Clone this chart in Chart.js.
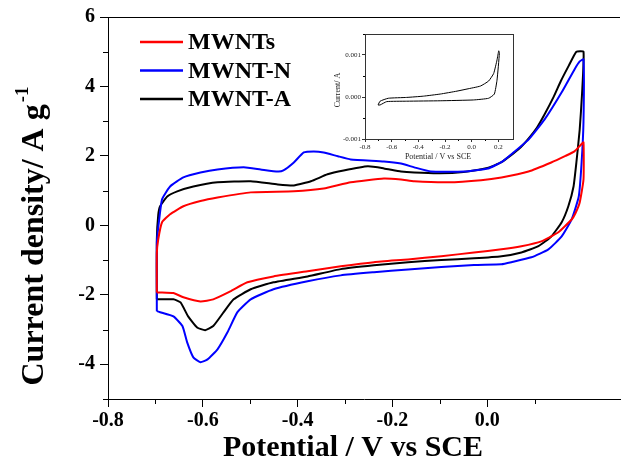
<!DOCTYPE html>
<html>
<head>
<meta charset="utf-8">
<script src="https://cdn.jsdelivr.net/npm/chart.js@4.4.1/dist/chart.umd.min.js"></script>
<style>
  html, body { margin: 0; padding: 0; background: #fff; }
  #wrap { position: relative; width: 621px; height: 469px; }
  #main { position: absolute; left: 0; top: 0; }
  #inset { position: absolute; left: 325px; top: 26px; }
</style>
</head>
<body>
<div id="wrap">
  <canvas id="main" width="621" height="469"></canvas>
  <canvas id="inset" width="196" height="140"></canvas>
</div>
<script>
// series names
const seriesNames = ['MWNTs', 'MWNT-N', 'MWNT-A'];
const seriesColors = ['#ff0000', '#0000ff', '#000000'];

// MWNTs (red) loop: potential (V) and current density (A/g)
const mwntsV = [-0.697, -0.697, -0.694, -0.686, -0.669, -0.641, -0.605, -0.569, -0.499, -0.408, -0.345, -0.288, -0.218, -0.182, -0.154, -0.083, -0.013, 0.030, 0.087, 0.135, 0.165, 0.184, 0.198, 0.203,
  0.203, 0.195, 0.186, 0.178, 0.150, 0.114, 0.072, 0.030, -0.028, -0.097, -0.167, -0.239, -0.309, -0.379, -0.451, -0.506, -0.542, -0.578, -0.605, -0.641, -0.662, -0.690, -0.697];
const mwntsJ = [-1.93, -0.80, -0.40, 0.09, 0.32, 0.55, 0.70, 0.80, 0.95, 0.98, 1.06, 1.24, 1.35, 1.32, 1.27, 1.24, 1.30, 1.38, 1.55, 1.81, 2.00, 2.13, 2.33, 2.39,
  1.32, 0.66, 0.35, 0.17, -0.20, -0.46, -0.60, -0.69, -0.78, -0.89, -0.98, -1.06, -1.18, -1.32, -1.47, -1.64, -1.90, -2.13, -2.19, -2.07, -1.95, -1.93, -1.93];

// MWNT-N (blue)
const mwntnV = [-0.697, -0.697, -0.692, -0.686, -0.669, -0.641, -0.605, -0.569, -0.514, -0.478, -0.442, -0.430, -0.408, -0.387, -0.366, -0.345, -0.315, -0.288, -0.218, -0.182, -0.154, -0.119, -0.049, 0.002, 0.030, 0.051, 0.087, 0.121, 0.157, 0.184, 0.195, 0.203,
  0.203, 0.199, 0.193, 0.178, 0.157, 0.129, 0.093, 0.051, 0.030, -0.028, -0.097, -0.167, -0.239, -0.309, -0.379, -0.451, -0.499, -0.527, -0.548, -0.569, -0.590, -0.605, -0.620, -0.633, -0.643, -0.662, -0.690, -0.697];
const mwntnJ = [-2.47, -0.50, 0.17, 0.75, 1.12, 1.38, 1.52, 1.61, 1.67, 1.61, 1.55, 1.58, 1.81, 2.10, 2.13, 2.10, 1.99, 1.90, 1.84, 1.78, 1.67, 1.55, 1.55, 1.64, 1.82, 2.05, 2.47, 3.05, 3.83, 4.49, 4.72, 4.78,
  3.00, 1.81, 0.83, 0.17, -0.32, -0.69, -0.92, -1.06, -1.12, -1.14, -1.20, -1.27, -1.35, -1.44, -1.61, -1.84, -2.13, -2.50, -3.08, -3.57, -3.86, -3.94, -3.80, -3.37, -2.90, -2.62, -2.50, -2.47];

// MWNT-A (black)
const mwntaV = [-0.697, -0.697, -0.694, -0.690, -0.675, -0.654, -0.620, -0.569, -0.499, -0.442, -0.408, -0.372, -0.337, -0.303, -0.252, -0.218, -0.182, -0.154, -0.100, -0.050, 0.000, 0.030, 0.066, 0.087, 0.105, 0.121, 0.140, 0.155, 0.172, 0.188, 0.203,
  0.200, 0.195, 0.188, 0.182, 0.171, 0.157, 0.135, 0.108, 0.072, 0.030, -0.028, -0.097, -0.167, -0.239, -0.309, -0.379, -0.451, -0.499, -0.535, -0.556, -0.578, -0.595, -0.612, -0.631, -0.647, -0.662, -0.697];
const mwntaJ = [-2.13, -0.40, 0.30, 0.55, 0.83, 0.98, 1.12, 1.24, 1.27, 1.18, 1.15, 1.27, 1.47, 1.58, 1.70, 1.64, 1.55, 1.52, 1.50, 1.54, 1.65, 1.82, 2.19, 2.50, 2.82, 3.20, 3.70, 4.15, 4.60, 5.00, 5.00,
  3.80, 2.76, 1.81, 1.12, 0.55, 0.09, -0.32, -0.60, -0.78, -0.89, -0.95, -1.00, -1.06, -1.15, -1.26, -1.47, -1.64, -1.84, -2.13, -2.50, -2.90, -3.02, -2.94, -2.62, -2.22, -2.13, -2.13];

// inset: current (A) vs potential
const insetV = [-0.702, -0.687, -0.625, -0.487, -0.362, -0.236, -0.110, -0.035, 0.065, 0.127, 0.165, 0.190, 0.203, 0.208, 0.190, 0.170, 0.127, 0.015, -0.236, -0.487, -0.637, -0.687, -0.702];
const insetI = [-0.00019, -0.00010, -0.00003, -0.00001, 0.00002, 0.00007, 0.00014, 0.00019, 0.00026, 0.00038, 0.00056, 0.00088, 0.00110, 0.00104, 0.00040, 0.00007, -0.00003, -0.00007, -0.00009, -0.00010, -0.00011, -0.00019, -0.00019];

const serif = '"Liberation Serif", "Times New Roman", serif';

function toPoints(xs, ys) {
    return xs.map((x, i) => ({ x: x, y: ys[i] }));
}

// keep only ticks on the step grid (drops the added min/max bounds)
function onGrid(step) {
    return scale => {
        scale.ticks = scale.ticks.filter(t => Math.abs(t.value / step - Math.round(t.value / step)) < 1e-6);
    };
}
function isMajor(v, step) {
    return Math.round(v / step) % 2 === 0;
}

// short minor ticks, drawn from the scale's own tick positions
function drawMinor(chart, xStep, yStep, lenX, lenY) {
    const ctx = chart.ctx, a = chart.chartArea;
    const sx = chart.scales.x, sy = chart.scales.y;
    ctx.save();
    ctx.strokeStyle = '#000';
    ctx.lineWidth = 1;
    ctx.beginPath();
    sx.ticks.forEach(t => {
        if (isMajor(t.value, xStep)) return;
        const px = Math.round(sx.getPixelForValue(t.value)) + 0.5;
        ctx.moveTo(px, a.bottom);
        ctx.lineTo(px, a.bottom + lenX);
    });
    sy.ticks.forEach(t => {
        if (isMajor(t.value, yStep)) return;
        const py = Math.round(sy.getPixelForValue(t.value)) + 0.5;
        ctx.moveTo(a.left - lenY, py);
        ctx.lineTo(a.left, py);
    });
    ctx.stroke();
    ctx.restore();
}

const mainExtras = {
    id: 'mainExtras',
    afterDraw(chart) {
        const ctx = chart.ctx, a = chart.chartArea;
        drawMinor(chart, 0.1, 1, 5, 5);

        // top frame line
        ctx.save();
        ctx.strokeStyle = '#000';
        ctx.lineWidth = 1;
        ctx.beginPath();
        ctx.moveTo(a.left, Math.round(a.top) + 0.5);
        ctx.lineTo(a.right, Math.round(a.top) + 0.5);
        ctx.stroke();

        // legend
        ctx.font = 'bold 24px ' + serif;
        ctx.textBaseline = 'middle';
        ctx.textAlign = 'left';
        chart.data.datasets.forEach((ds, i) => {
            const y = 42 + i * 28.5;
            ctx.strokeStyle = ds.borderColor;
            ctx.lineWidth = 2.5;
            ctx.beginPath();
            ctx.moveTo(140, y);
            ctx.lineTo(183, y);
            ctx.stroke();
            ctx.fillStyle = '#000';
            ctx.fillText(ds.label, 188, y + 1);
        });

        // axis titles
        ctx.fillStyle = '#000';
        ctx.textBaseline = 'alphabetic';
        ctx.textAlign = 'center';
        ctx.font = 'bold 30px ' + serif;
        ctx.fillText('Potential / V vs SCE', 353, 456);

        ctx.translate(43, 236);
        ctx.rotate(-Math.PI / 2);
        const main = 'Current density/ A g';
        ctx.font = 'bold 32px ' + serif;
        const w = ctx.measureText(main).width;
        ctx.font = 'bold 19px ' + serif;
        const ws = ctx.measureText('-1').width;
        const x0 = -(w + ws + 2) / 2;
        ctx.textAlign = 'left';
        ctx.font = 'bold 32px ' + serif;
        ctx.fillText(main, x0, 0);
        ctx.font = 'bold 19px ' + serif;
        ctx.fillText('-1', x0 + w + 2, -15);
        ctx.restore();
    }
};

const insetExtras = {
    id: 'insetExtras',
    afterDraw(chart) {
        const ctx = chart.ctx, a = chart.chartArea;
        drawMinor(chart, 0.1, 0.0005, 2, 2);
        ctx.save();
        ctx.strokeStyle = '#333';
        ctx.lineWidth = 1;
        ctx.strokeRect(Math.round(a.left) + 0.5, Math.round(a.top) + 0.5, Math.round(a.right - a.left), Math.round(a.bottom - a.top));
        ctx.fillStyle = '#222';
        ctx.font = '8px ' + serif;
        ctx.textAlign = 'center';
        ctx.textBaseline = 'middle';
        ctx.fillText('Potential / V vs SCE', 113, 131);
        ctx.translate(13, 64);
        ctx.rotate(-Math.PI / 2);
        ctx.fillText('Current/ A', 0, 0);
        ctx.restore();
    }
};

new Chart(document.getElementById('main'), {
    type: 'scatter',
    data: {
        datasets: [
            { label: seriesNames[0], data: toPoints(mwntsV, mwntsJ), borderColor: seriesColors[0], showLine: true },
            { label: seriesNames[1], data: toPoints(mwntnV, mwntnJ), borderColor: seriesColors[1], showLine: true },
            { label: seriesNames[2], data: toPoints(mwntaV, mwntaJ), borderColor: seriesColors[2], showLine: true }
        ]
    },
    options: {
        responsive: false,
        animation: false,
        layout: { padding: { top: 17, right: 1, left: 0, bottom: 0 } },
        plugins: { legend: { display: false }, tooltip: { enabled: false } },
        elements: { point: { radius: 0 }, line: { borderWidth: 2, tension: 0.15 } },
        scales: {
            x: {
                type: 'linear', min: -0.8, max: 0.28,
                afterFit: s => { s.height = 70; },
                afterBuildTicks: onGrid(0.1),
                ticks: {
                    stepSize: 0.1, padding: 2, color: '#000', maxRotation: 0, autoSkip: false,
                    font: { family: serif, size: 20, weight: 'bold' },
                    callback: v => isMajor(v, 0.1) ? v.toFixed(1) : ''
                },
                grid: { drawOnChartArea: false, tickLength: 8, tickColor: c => isMajor(c.tick.value, 0.1) ? '#000' : 'rgba(0,0,0,0)' },
                border: { display: true, color: '#000', width: 1 }
            },
            y: {
                type: 'linear', min: -5, max: 6,
                afterFit: s => { s.width = 108; },
                afterBuildTicks: onGrid(1),
                ticks: {
                    stepSize: 1, padding: 5, color: '#000', autoSkip: false,
                    font: { family: serif, size: 20, weight: 'bold' },
                    callback: v => isMajor(v, 1) ? String(Math.round(v)) : ''
                },
                grid: { drawOnChartArea: false, tickLength: 8, tickColor: c => isMajor(c.tick.value, 1) ? '#000' : 'rgba(0,0,0,0)' },
                border: { display: true, color: '#000', width: 1 }
            }
        }
    },
    plugins: [mainExtras]
});

new Chart(document.getElementById('inset'), {
    type: 'scatter',
    data: {
        datasets: [{ label: 'inset', data: toPoints(insetV, insetI), borderColor: '#000', borderWidth: 1, showLine: true }]
    },
    options: {
        responsive: false,
        animation: false,
        layout: { padding: { top: 8, right: 8, left: 0, bottom: 0 } },
        plugins: { legend: { display: false }, tooltip: { enabled: false } },
        elements: { point: { radius: 0 }, line: { tension: 0.15 } },
        scales: {
            x: {
                type: 'linear', min: -0.8, max: 0.31,
                afterFit: s => { s.height = 27; },
                afterBuildTicks: onGrid(0.1),
                ticks: {
                    stepSize: 0.1, padding: 1, color: '#222', maxRotation: 0, autoSkip: false,
                    font: { family: serif, size: 7 },
                    callback: v => isMajor(v, 0.1) ? v.toFixed(1) : ''
                },
                grid: { drawOnChartArea: false, tickLength: 3, tickColor: c => isMajor(c.tick.value, 0.1) ? '#333' : 'rgba(0,0,0,0)' },
                border: { display: false }
            },
            y: {
                type: 'linear', min: -0.001, max: 0.0015,
                afterFit: s => { s.width = 40; },
                afterBuildTicks: onGrid(0.0005),
                ticks: {
                    stepSize: 0.0005, padding: 1, color: '#222', autoSkip: false,
                    font: { family: serif, size: 7 },
                    callback: v => isMajor(v, 0.0005) ? (Math.round(v * 2000) / 2000).toFixed(3) : ''
                },
                grid: { drawOnChartArea: false, tickLength: 3, tickColor: c => isMajor(c.tick.value, 0.0005) ? '#333' : 'rgba(0,0,0,0)' },
                border: { display: false }
            }
        }
    },
    plugins: [insetExtras]
});
</script>
</body>
</html>
